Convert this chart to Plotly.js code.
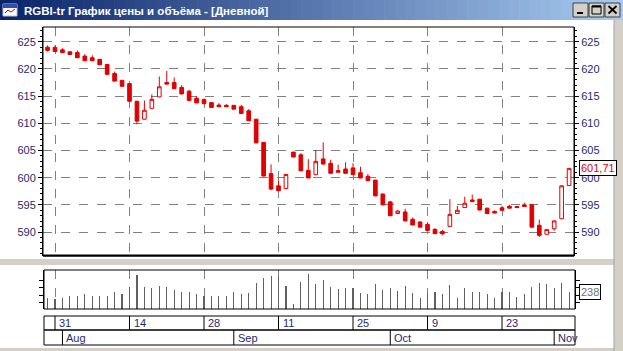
<!DOCTYPE html>
<html>
<head>
<meta charset="utf-8">
<script src="https://cdn.plot.ly/plotly-3.0.1.min.js"></script>
<style>
html,body{margin:0;padding:0;background:#fff;overflow:hidden;}
#chart{width:623px;height:351px;}
</style>
</head>
<body>
<div id="chart"></div>
<script>
// ---- DATA ----
const chartTitle = "RGBI-tr График цены и объёма - [Дневной]";
// trading-day index of the first candle (day "31" = index 0)
const firstIndex = -1;
const opens = [624.0,623.95,623.5,623.15,623.0,622.35,622.05,621.75,620.8,619.15,617.9,617.3,614.05,610.75,612.75,614.85,617.5,617.5,616.6,615.9,614.6,614.35,613.8,613.35,613.3,613.3,613.05,612.3,610.75,606.5,600.75,598.5,598.0,604.7,604.2,601.35,600.55,603.45,602.65,601.3,601.6,601.8,600.9,600.25,599.55,597.0,595.55,593.4,593.7,592.35,591.85,591.4,590.5,590.1,591.05,593.4,594.5,595.9,596.05,594.4,593.8,594.45,594.75,594.7,595.0,595.0,591.25,589.6,590.6,592.45,598.55];
const highs = [624.3,624.3,623.8,623.2,623.4,622.7,622.5,621.8,620.85,619.5,617.95,617.35,614.1,614.2,615.3,618.6,619.6,618.4,617.0,616.1,615.0,614.6,613.85,613.7,613.5,613.35,613.4,612.6,610.8,606.55,602.45,599.5,600.7,604.75,604.5,603.4,605.1,606.5,603.3,602.4,602.8,602.65,602.0,600.7,599.6,597.05,595.75,594.1,594.3,592.65,592.0,591.8,590.7,590.4,596.05,594.8,596.5,596.9,596.1,594.45,594.0,594.8,595.0,594.8,595.4,595.05,592.3,590.5,592.1,598.55,601.75];
const lows = [623.2,623.1,622.9,622.6,622.0,621.4,621.45,620.7,618.95,617.7,616.75,613.9,609.8,610.7,612.7,614.8,617.1,616.3,615.3,614.1,613.7,613.5,612.85,613.0,613.0,612.55,611.75,610.4,606.35,600.25,597.7,597.55,597.95,603.75,601.2,599.9,600.5,602.45,600.75,600.95,600.75,600.5,599.9,599.4,596.6,594.95,592.95,593.35,592.0,591.25,590.85,590.25,589.65,589.45,591.0,593.35,594.45,595.55,594.0,593.35,593.45,593.95,594.35,594.45,594.65,590.85,589.1,589.55,590.25,592.4,598.5];
const closes = [623.4,623.2,623.0,622.65,622.05,621.5,621.5,620.75,619.0,617.75,616.8,614.05,610.4,612.4,614.4,616.7,617.2,616.35,615.4,614.2,613.75,613.6,612.9,613.05,613.05,612.6,611.8,610.45,606.4,600.3,597.9,597.6,600.6,603.8,601.25,599.95,603.0,602.5,600.8,601.0,600.8,600.55,599.95,599.45,596.65,595.0,593.0,593.85,592.05,591.3,590.9,590.3,589.7,589.7,593.25,594.0,595.3,595.6,594.05,593.4,593.5,594.0,594.4,594.5,594.7,590.9,589.4,590.45,592.05,598.5,601.71];
const volumes = [152,143,162,190,190,209,190,181,190,238,209,319,486,319,305,328,319,271,238,248,209,190,190,190,190,238,209,224,367,447,476,476,328,67,381,495,352,414,319,281,305,295,224,209,352,271,295,257,328,224,162,224,238,214,343,162,295,238,238,209,162,238,238,176,209,319,367,352,305,367,238];
// date scale
const dayTickIdx = [0,10,20,30,40,50,60];
const dayTickLabels = ["31","14","28","11","25","9","23"];
const monthStartIdx = [1,24,45,67];
const monthLabels = ["Aug","Sep","Oct","Nov"];
// price axis
const priceTicks = [590,595,600,605,610,615,620,625];
const volTicks = [100,200,300,400];

// ---- LAYOUT HELPERS ----
const W = 623, H = 351;
const px = x => x / W;
const py = y => 1 - y / H;
const xIdx = opens.map((_, k) => k + firstIndex);
const RED = '#e00000';
const LABEL = '#1f2a6e';
const FONT = 'Liberation Sans, Arial, sans-serif';

const traces = [
  {
    type: 'candlestick', x: xIdx, open: opens, high: highs, low: lows, close: closes,
    xaxis: 'x', yaxis: 'y', whiskerwidth: 0, hoverinfo: 'skip',
    increasing: {line: {color: RED, width: 1}, fillcolor: '#ffffff'},
    decreasing: {line: {color: RED, width: 1}, fillcolor: RED},
    showlegend: false
  },
  {
    type: 'bar', x: xIdx, y: volumes, xaxis: 'x2', yaxis: 'y2', width: 0.15,
    marker: {color: '#606060', line: {width: 0}}, hoverinfo: 'skip', showlegend: false
  },
  // invisible companions so the right-hand axes get drawn
  {type: 'scatter', mode: 'markers', x: [xIdx[0]], y: [closes[0]], xaxis: 'x', yaxis: 'y3',
    marker: {opacity: 0}, hoverinfo: 'skip', showlegend: false},
  {type: 'scatter', mode: 'markers', x: [xIdx[0]], y: [volumes[0]], xaxis: 'x2', yaxis: 'y4',
    marker: {opacity: 0}, hoverinfo: 'skip', showlegend: false}
];

const shapes = [];
const annotations = [];

// title bar gradient
const N = 60, c0 = [10,36,106], c1 = [166,202,240];
for (let k = 0; k < N; k++) {
  const t = k / (N - 1);
  const c = c0.map((v, j) => Math.round(v + (c1[j] - v) * t));
  shapes.push({type: 'rect', xref: 'paper', yref: 'paper', x0: px(k * W / N), x1: px((k + 1) * W / N + 0.6),
    y0: py(20), y1: py(0), fillcolor: `rgb(${c.join(',')})`, line: {width: 0}, layer: 'below'});
}
// icon
shapes.push({type: 'rect', xref: 'paper', yref: 'paper', x0: px(3), x1: px(17), y0: py(16), y1: py(4),
  fillcolor: '#ffffff', line: {color: '#c0c0c0', width: 1}});
shapes.push({type: 'rect', xref: 'paper', yref: 'paper', x0: px(3), x1: px(17), y0: py(8), y1: py(4),
  fillcolor: '#3050b0', line: {width: 0}});
shapes.push({type: 'path', xref: 'paper', yref: 'paper',
  path: `M ${px(5)} ${py(13)} L ${px(8)} ${py(10)} L ${px(11)} ${py(12)} L ${px(15)} ${py(9)}`,
  line: {color: '#d00000', width: 1}});
// window buttons
const btns = [573, 589, 605];
btns.forEach((bx, k) => {
  shapes.push({type: 'rect', xref: 'paper', yref: 'paper', x0: px(bx), x1: px(bx + 15), y0: py(17), y1: py(3),
    fillcolor: '#d4d0c8', line: {color: '#404040', width: 1}});
});
shapes.push({type: 'line', xref: 'paper', yref: 'paper', x0: px(577), x1: px(583), y0: py(13), y1: py(13), line: {color: '#000', width: 2}});
shapes.push({type: 'rect', xref: 'paper', yref: 'paper', x0: px(592), x1: px(601), y0: py(14), y1: py(6), line: {color: '#000', width: 1}});
shapes.push({type: 'line', xref: 'paper', yref: 'paper', x0: px(592), x1: px(601), y0: py(6.5), y1: py(6.5), line: {color: '#000', width: 2}});
shapes.push({type: 'line', xref: 'paper', yref: 'paper', x0: px(608.5), x1: px(616.5), y0: py(6), y1: py(13.5), line: {color: '#000', width: 1.8}});
shapes.push({type: 'line', xref: 'paper', yref: 'paper', x0: px(608.5), x1: px(616.5), y0: py(13.5), y1: py(6), line: {color: '#000', width: 1.8}});
annotations.push({xref: 'paper', yref: 'paper', x: px(22), y: py(10.5), xanchor: 'left', yanchor: 'middle',
  text: '<b>' + chartTitle + '</b>', showarrow: false, font: {family: FONT, size: 11.5, color: '#ffffff'}});

// window frame: right strip, separator band, bottom strip
shapes.push({type: 'rect', xref: 'paper', yref: 'paper', x0: px(614), x1: px(623), y0: py(351), y1: py(20),
  fillcolor: '#d4d0c8', line: {width: 0}, layer: 'below'});
shapes.push({type: 'line', xref: 'paper', yref: 'paper', x0: px(614), x1: px(614), y0: py(351), y1: py(20),
  line: {color: '#a0a0a0', width: 1}});
shapes.push({type: 'rect', xref: 'paper', yref: 'paper', x0: 0, x1: px(614), y0: py(265), y1: py(259),
  fillcolor: '#d4d0c8', line: {width: 0}, layer: 'below'});
shapes.push({type: 'rect', xref: 'paper', yref: 'paper', x0: 0, x1: px(614), y0: py(351), y1: py(348),
  fillcolor: '#d4d0c8', line: {width: 0}, layer: 'below'});

// price panel frame
shapes.push({type: 'rect', xref: 'paper', yref: 'paper', x0: px(43), x1: px(574), y0: py(256), y1: py(27),
  line: {color: '#000', width: 1}});
shapes.push({type: 'line', xref: 'paper', yref: 'paper', x0: px(43), x1: px(574), y0: py(255.5), y1: py(255.5),
  line: {color: '#000', width: 2}});
// volume panel frame
shapes.push({type: 'rect', xref: 'paper', yref: 'paper', x0: px(44), x1: px(575), y0: py(309), y1: py(270),
  line: {color: '#000', width: 1}});

// date rows
shapes.push({type: 'rect', xref: 'paper', yref: 'paper', x0: px(44), x1: px(575), y0: py(330), y1: py(316),
  line: {color: '#000', width: 1}});
shapes.push({type: 'rect', xref: 'paper', yref: 'paper', x0: px(44), x1: px(575), y0: py(345), y1: py(330),
  line: {color: '#000', width: 1}});
dayTickIdx.forEach((d, k) => {
  shapes.push({type: 'line', xref: 'x2', yref: 'paper', x0: d, x1: d, y0: py(330), y1: py(316), line: {color: '#000', width: 1}});
  annotations.push({xref: 'x2', yref: 'paper', x: d, y: py(323), xanchor: 'left', yanchor: 'middle', xshift: 2,
    text: dayTickLabels[k], showarrow: false, font: {family: FONT, size: 11, color: LABEL}});
});
monthStartIdx.forEach((m, k) => {
  shapes.push({type: 'line', xref: 'x2', yref: 'paper', x0: m, x1: m, y0: py(345), y1: py(330), line: {color: '#000', width: 1}});
  annotations.push({xref: 'x2', yref: 'paper', x: m, y: py(338), xanchor: 'left', yanchor: 'middle', xshift: 2,
    text: monthLabels[k], showarrow: false, font: {family: FONT, size: 11, color: LABEL}});
});

// last value labels
const lastClose = closes[closes.length - 1];
const lastVol = volumes[volumes.length - 1];
annotations.push({xref: 'paper', yref: 'y', x: px(579), y: lastClose, xanchor: 'left', yanchor: 'middle',
  text: lastClose.toFixed(2).replace('.', ','), showarrow: false, bgcolor: '#ffffff',
  bordercolor: '#000', borderwidth: 1, borderpad: 1, font: {family: FONT, size: 11, color: RED}});
annotations.push({xref: 'paper', yref: 'y2', x: px(579), y: lastVol, xanchor: 'left', yanchor: 'middle',
  text: String(lastVol), showarrow: false, bgcolor: '#ffffff',
  bordercolor: '#000', borderwidth: 1, borderpad: 1, font: {family: FONT, size: 11, color: '#707070'}});

const xRange = [-1.61, 69.66];
const priceRange = [585.6, 627.7];
const volRange = [0, 557];
const priceAxisCommon = {
  range: priceRange, tickvals: priceTicks, ticks: 'outside', ticklen: 4, tickcolor: '#000', tickwidth: 1,
  minor: {dtick: 1, tick0: 0, ticks: 'outside', ticklen: 2, tickcolor: '#000', showgrid: false},
  showline: true, linecolor: '#000', linewidth: 1, zeroline: false,
  tickfont: {family: FONT, size: 11, color: LABEL}, fixedrange: true
};

const layout = {
  width: W, height: H, margin: {l: 0, r: 0, t: 0, b: 0},
  paper_bgcolor: '#ffffff', plot_bgcolor: 'rgba(0,0,0,0)', showlegend: false,
  xaxis: {domain: [px(43), px(574)], range: xRange, anchor: 'y', tickvals: dayTickIdx, showticklabels: false,
    ticks: '', showgrid: true, gridcolor: '#808080', griddash: 'dash', gridwidth: 1, zeroline: false,
    showline: false, rangeslider: {visible: false}, fixedrange: true},
  yaxis: Object.assign({domain: [py(256), py(27)], anchor: 'x', side: 'left',
    showgrid: true, gridcolor: '#808080', griddash: 'dash', gridwidth: 1}, priceAxisCommon),
  yaxis3: Object.assign({overlaying: 'y', anchor: 'x', side: 'right', showgrid: false}, priceAxisCommon),
  xaxis2: {domain: [px(44), px(575)], range: [xRange[0] + 1 / 7.45, xRange[1] + 1 / 7.45], anchor: 'y2', tickvals: dayTickIdx,
    showticklabels: false, ticks: '', showgrid: true, gridcolor: '#808080', griddash: 'dash', gridwidth: 1,
    zeroline: false, showline: false, fixedrange: true},
  yaxis2: {domain: [py(309), py(270)], range: volRange, anchor: 'x2', side: 'left', tickvals: volTicks,
    showticklabels: false, ticks: 'outside', ticklen: 4, tickcolor: '#000', showgrid: false, zeroline: false,
    showline: true, linecolor: '#000', fixedrange: true},
  yaxis4: {overlaying: 'y2', range: volRange, anchor: 'x2', side: 'right', tickvals: volTicks,
    showticklabels: false, ticks: 'outside', ticklen: 4, tickcolor: '#000', showgrid: false, zeroline: false,
    showline: true, linecolor: '#000', fixedrange: true},
  bargap: 0,
  shapes: shapes,
  annotations: annotations
};

Plotly.newPlot('chart', traces, layout, {displayModeBar: false, staticPlot: true});
</script>
</body>
</html>
